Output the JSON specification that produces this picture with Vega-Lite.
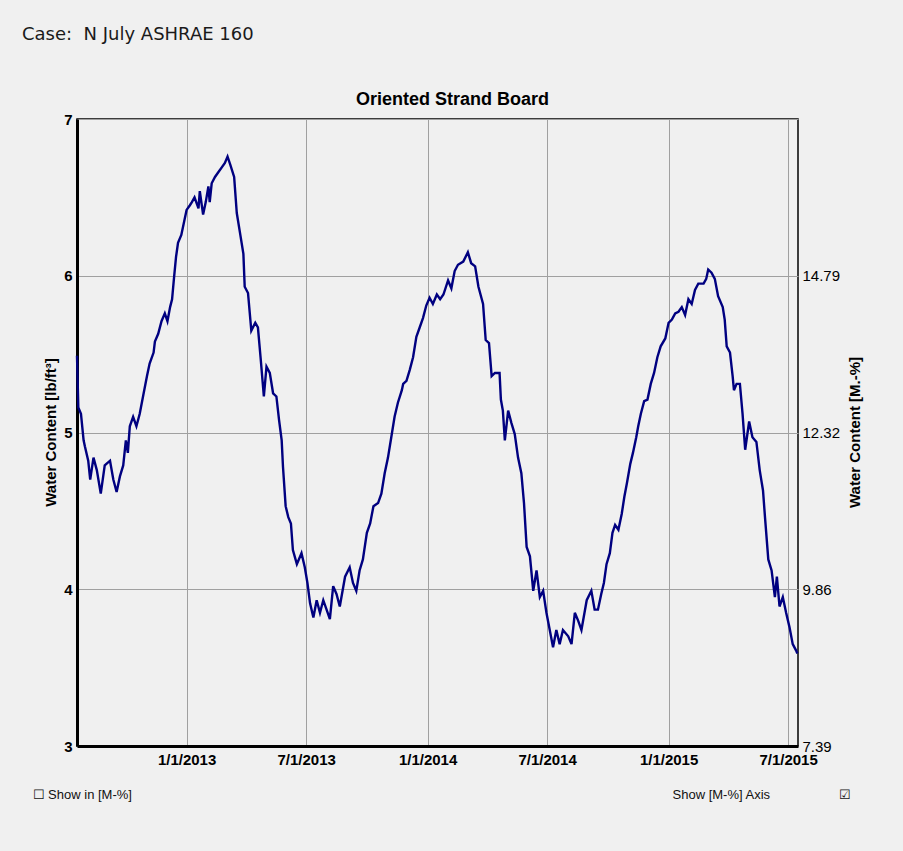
{
  "$schema": "https://vega.github.io/schema/vega-lite/v6.json",
  "width": 721,
  "height": 627,
  "autosize": {"type": "none"},
  "padding": {"left": 77, "top": 119, "right": 105, "bottom": 105},
  "background": "#f0f0f0",
  "title": {
    "text": "Case:\u00a0\u00a0N July ASHRAE 160",
    "anchor": "start",
    "frame": "group",
    "dx": -55,
    "dy": -22,
    "font": "DejaVu Sans",
    "fontSize": 18,
    "fontWeight": "normal",
    "color": "#1a1a1a",
    "baseline": "alphabetic",
    "offset": 10
  },
  "config": {
    "view": {"stroke": "#000000", "strokeWidth": 1.5, "fill": "#f0f0f0"},
    "axis": {"labelColor": "#000000", "titleColor": "#000000", "labelFont": "Liberation Sans", "titleFont": "Liberation Sans"}
  },
  "data": {
    "values": [
      {"d": "2012-07-19", "v": 5.49}, {"d": "2012-07-21", "v": 5.16}, {"d": "2012-07-25", "v": 5.12}, {"d": "2012-07-29", "v": 4.95},
      {"d": "2012-07-31", "v": 4.91}, {"d": "2012-08-05", "v": 4.82}, {"d": "2012-08-08", "v": 4.70}, {"d": "2012-08-13", "v": 4.84},
      {"d": "2012-08-18", "v": 4.76}, {"d": "2012-08-24", "v": 4.61}, {"d": "2012-08-30", "v": 4.79}, {"d": "2012-09-07", "v": 4.82},
      {"d": "2012-09-12", "v": 4.70}, {"d": "2012-09-17", "v": 4.62}, {"d": "2012-09-22", "v": 4.72}, {"d": "2012-09-27", "v": 4.79},
      {"d": "2012-10-01", "v": 4.95}, {"d": "2012-10-04", "v": 4.87}, {"d": "2012-10-07", "v": 5.04}, {"d": "2012-10-12", "v": 5.10},
      {"d": "2012-10-17", "v": 5.04}, {"d": "2012-10-22", "v": 5.12}, {"d": "2012-10-27", "v": 5.23}, {"d": "2012-11-02", "v": 5.36},
      {"d": "2012-11-06", "v": 5.44}, {"d": "2012-11-12", "v": 5.51}, {"d": "2012-11-14", "v": 5.58}, {"d": "2012-11-19", "v": 5.63},
      {"d": "2012-11-24", "v": 5.71}, {"d": "2012-11-29", "v": 5.76}, {"d": "2012-12-03", "v": 5.71}, {"d": "2012-12-07", "v": 5.80},
      {"d": "2012-12-10", "v": 5.85}, {"d": "2012-12-13", "v": 5.99}, {"d": "2012-12-16", "v": 6.12}, {"d": "2012-12-19", "v": 6.21},
      {"d": "2012-12-24", "v": 6.26}, {"d": "2012-12-29", "v": 6.36}, {"d": "2013-01-01", "v": 6.42}, {"d": "2013-01-06", "v": 6.45},
      {"d": "2013-01-09", "v": 6.47}, {"d": "2013-01-13", "v": 6.50}, {"d": "2013-01-19", "v": 6.43}, {"d": "2013-01-21", "v": 6.54},
      {"d": "2013-01-26", "v": 6.39}, {"d": "2013-01-30", "v": 6.47}, {"d": "2013-02-03", "v": 6.57}, {"d": "2013-02-05", "v": 6.47},
      {"d": "2013-02-08", "v": 6.59}, {"d": "2013-02-13", "v": 6.63}, {"d": "2013-02-18", "v": 6.66}, {"d": "2013-02-23", "v": 6.69},
      {"d": "2013-02-28", "v": 6.72}, {"d": "2013-03-04", "v": 6.76}, {"d": "2013-03-08", "v": 6.71}, {"d": "2013-03-14", "v": 6.63},
      {"d": "2013-03-18", "v": 6.40}, {"d": "2013-03-23", "v": 6.27}, {"d": "2013-03-28", "v": 6.14}, {"d": "2013-03-30", "v": 5.93},
      {"d": "2013-04-04", "v": 5.89}, {"d": "2013-04-09", "v": 5.65}, {"d": "2013-04-15", "v": 5.70}, {"d": "2013-04-19", "v": 5.67},
      {"d": "2013-04-23", "v": 5.48}, {"d": "2013-04-28", "v": 5.23}, {"d": "2013-05-02", "v": 5.42}, {"d": "2013-05-07", "v": 5.38},
      {"d": "2013-05-12", "v": 5.25}, {"d": "2013-05-17", "v": 5.23}, {"d": "2013-05-21", "v": 5.08}, {"d": "2013-05-25", "v": 4.95},
      {"d": "2013-05-27", "v": 4.78}, {"d": "2013-05-31", "v": 4.53}, {"d": "2013-06-04", "v": 4.46}, {"d": "2013-06-08", "v": 4.42},
      {"d": "2013-06-11", "v": 4.25}, {"d": "2013-06-17", "v": 4.16}, {"d": "2013-06-24", "v": 4.23}, {"d": "2013-06-29", "v": 4.14},
      {"d": "2013-07-03", "v": 4.04}, {"d": "2013-07-07", "v": 3.91}, {"d": "2013-07-12", "v": 3.82}, {"d": "2013-07-17", "v": 3.93},
      {"d": "2013-07-22", "v": 3.85}, {"d": "2013-07-27", "v": 3.93}, {"d": "2013-08-01", "v": 3.87}, {"d": "2013-08-06", "v": 3.81},
      {"d": "2013-08-11", "v": 4.02}, {"d": "2013-08-16", "v": 3.97}, {"d": "2013-08-21", "v": 3.89}, {"d": "2013-08-29", "v": 4.08},
      {"d": "2013-09-05", "v": 4.14}, {"d": "2013-09-10", "v": 4.04}, {"d": "2013-09-15", "v": 3.99}, {"d": "2013-09-20", "v": 4.12},
      {"d": "2013-09-25", "v": 4.19}, {"d": "2013-10-01", "v": 4.36}, {"d": "2013-10-06", "v": 4.42}, {"d": "2013-10-11", "v": 4.53},
      {"d": "2013-10-18", "v": 4.55}, {"d": "2013-10-23", "v": 4.61}, {"d": "2013-10-28", "v": 4.74}, {"d": "2013-11-02", "v": 4.84},
      {"d": "2013-11-07", "v": 4.97}, {"d": "2013-11-12", "v": 5.10}, {"d": "2013-11-17", "v": 5.19}, {"d": "2013-11-23", "v": 5.27},
      {"d": "2013-11-25", "v": 5.31}, {"d": "2013-11-30", "v": 5.33}, {"d": "2013-12-05", "v": 5.40}, {"d": "2013-12-10", "v": 5.48},
      {"d": "2013-12-15", "v": 5.61}, {"d": "2013-12-20", "v": 5.67}, {"d": "2013-12-25", "v": 5.73}, {"d": "2013-12-30", "v": 5.81},
      {"d": "2014-01-04", "v": 5.86}, {"d": "2014-01-09", "v": 5.82}, {"d": "2014-01-15", "v": 5.88}, {"d": "2014-01-20", "v": 5.85},
      {"d": "2014-01-25", "v": 5.88}, {"d": "2014-02-01", "v": 5.97}, {"d": "2014-02-06", "v": 5.92}, {"d": "2014-02-11", "v": 6.03},
      {"d": "2014-02-16", "v": 6.07}, {"d": "2014-02-24", "v": 6.09}, {"d": "2014-03-03", "v": 6.15}, {"d": "2014-03-08", "v": 6.08},
      {"d": "2014-03-14", "v": 6.06}, {"d": "2014-03-19", "v": 5.93}, {"d": "2014-03-26", "v": 5.82}, {"d": "2014-03-30", "v": 5.59},
      {"d": "2014-04-04", "v": 5.57}, {"d": "2014-04-08", "v": 5.36}, {"d": "2014-04-13", "v": 5.38}, {"d": "2014-04-20", "v": 5.38},
      {"d": "2014-04-22", "v": 5.21}, {"d": "2014-04-25", "v": 5.14}, {"d": "2014-04-28", "v": 4.95}, {"d": "2014-05-03", "v": 5.14},
      {"d": "2014-05-08", "v": 5.06}, {"d": "2014-05-13", "v": 4.99}, {"d": "2014-05-18", "v": 4.84}, {"d": "2014-05-23", "v": 4.74},
      {"d": "2014-05-27", "v": 4.55}, {"d": "2014-05-31", "v": 4.27}, {"d": "2014-06-05", "v": 4.21}, {"d": "2014-06-10", "v": 3.99},
      {"d": "2014-06-15", "v": 4.12}, {"d": "2014-06-20", "v": 3.95}, {"d": "2014-06-25", "v": 3.99}, {"d": "2014-06-30", "v": 3.85},
      {"d": "2014-07-05", "v": 3.74}, {"d": "2014-07-10", "v": 3.63}, {"d": "2014-07-15", "v": 3.74}, {"d": "2014-07-20", "v": 3.65},
      {"d": "2014-07-25", "v": 3.74}, {"d": "2014-08-02", "v": 3.70}, {"d": "2014-08-07", "v": 3.65}, {"d": "2014-08-12", "v": 3.85},
      {"d": "2014-08-17", "v": 3.80}, {"d": "2014-08-22", "v": 3.74}, {"d": "2014-08-30", "v": 3.93}, {"d": "2014-09-06", "v": 3.99},
      {"d": "2014-09-11", "v": 3.87}, {"d": "2014-09-16", "v": 3.87}, {"d": "2014-09-21", "v": 3.97}, {"d": "2014-09-25", "v": 4.04},
      {"d": "2014-09-29", "v": 4.16}, {"d": "2014-10-04", "v": 4.23}, {"d": "2014-10-08", "v": 4.36}, {"d": "2014-10-12", "v": 4.41},
      {"d": "2014-10-17", "v": 4.38}, {"d": "2014-10-22", "v": 4.48}, {"d": "2014-10-26", "v": 4.59}, {"d": "2014-10-30", "v": 4.68},
      {"d": "2014-11-04", "v": 4.80}, {"d": "2014-11-08", "v": 4.87}, {"d": "2014-11-13", "v": 4.97}, {"d": "2014-11-16", "v": 5.04},
      {"d": "2014-11-20", "v": 5.12}, {"d": "2014-11-25", "v": 5.20}, {"d": "2014-11-30", "v": 5.21}, {"d": "2014-12-05", "v": 5.31},
      {"d": "2014-12-10", "v": 5.38}, {"d": "2014-12-15", "v": 5.48}, {"d": "2014-12-20", "v": 5.55}, {"d": "2014-12-27", "v": 5.60},
      {"d": "2015-01-01", "v": 5.70}, {"d": "2015-01-06", "v": 5.72}, {"d": "2015-01-11", "v": 5.76}, {"d": "2015-01-16", "v": 5.77},
      {"d": "2015-01-21", "v": 5.80}, {"d": "2015-01-26", "v": 5.75}, {"d": "2015-01-31", "v": 5.85}, {"d": "2015-02-05", "v": 5.82},
      {"d": "2015-02-10", "v": 5.91}, {"d": "2015-02-15", "v": 5.95}, {"d": "2015-02-23", "v": 5.95}, {"d": "2015-02-27", "v": 5.98},
      {"d": "2015-03-02", "v": 6.04}, {"d": "2015-03-07", "v": 6.02}, {"d": "2015-03-12", "v": 5.98}, {"d": "2015-03-17", "v": 5.87},
      {"d": "2015-03-24", "v": 5.80}, {"d": "2015-03-27", "v": 5.72}, {"d": "2015-03-30", "v": 5.55}, {"d": "2015-04-04", "v": 5.51},
      {"d": "2015-04-08", "v": 5.36}, {"d": "2015-04-10", "v": 5.27}, {"d": "2015-04-14", "v": 5.31}, {"d": "2015-04-19", "v": 5.31},
      {"d": "2015-04-23", "v": 5.12}, {"d": "2015-04-27", "v": 4.89}, {"d": "2015-05-03", "v": 5.07}, {"d": "2015-05-08", "v": 4.97},
      {"d": "2015-05-14", "v": 4.94}, {"d": "2015-05-19", "v": 4.76}, {"d": "2015-05-24", "v": 4.63}, {"d": "2015-05-27", "v": 4.46},
      {"d": "2015-06-01", "v": 4.19}, {"d": "2015-06-06", "v": 4.12}, {"d": "2015-06-11", "v": 3.95}, {"d": "2015-06-14", "v": 4.08},
      {"d": "2015-06-18", "v": 3.89}, {"d": "2015-06-23", "v": 3.95}, {"d": "2015-06-28", "v": 3.85}, {"d": "2015-07-03", "v": 3.76},
      {"d": "2015-07-08", "v": 3.65}, {"d": "2015-07-13", "v": 3.61}, {"d": "2015-07-15", "v": 3.59}
    ]
  },
  "resolve": {"axis": {"x": "independent", "y": "independent"}},
  "layer": [
    {
      "mark": {"type": "line", "color": "#000080", "strokeWidth": 2.4},
      "encoding": {
        "x": {
          "field": "d",
          "type": "temporal",
          "scale": {
            "type": "utc",
            "domain": [
              {"year": 2012, "month": 7, "date": 19, "utc": true},
              {"year": 2015, "month": 7, "date": 16, "utc": true}
            ]
          },
          "axis": {
            "orient": "bottom",
            "values": [
              {"year": 2013, "month": 1, "date": 1, "utc": true},
              {"year": 2013, "month": 7, "date": 1, "utc": true},
              {"year": 2014, "month": 1, "date": 1, "utc": true},
              {"year": 2014, "month": 7, "date": 1, "utc": true},
              {"year": 2015, "month": 1, "date": 1, "utc": true},
              {"year": 2015, "month": 7, "date": 1, "utc": true}
            ],
            "labelExpr": "utcFormat(datum.value, '%-m/%-d/%Y')",
            "labelFontSize": 15,
            "labelFontWeight": "bold",
            "labelPadding": 6,
            "labelFlush": false,
            "labelOverlap": false,
            "labelBound": false,
            "ticks": false,
            "domainColor": "#000000",
            "domainWidth": 3,
            "grid": true,
            "gridColor": "#a0a0a0",
            "gridWidth": 1,
            "gridOpacity": 1,
            "title": "\u2610\u00a0Show in [M-%]",
            "titleFontSize": 13,
            "titleFontWeight": "normal",
            "titleColor": "#111111",
            "titleAlign": "left",
            "titleAnchor": "start",
            "titleBaseline": "alphabetic",
            "titleX": -45,
            "titleY": 52
          }
        },
        "y": {
          "field": "v",
          "type": "quantitative",
          "scale": {"domain": [3, 7], "nice": false, "zero": false},
          "axis": {
            "orient": "left",
            "values": [3, 4, 5, 6, 7],
            "format": "d",
            "labelFontSize": 15,
            "labelFontWeight": "bold",
            "labelPadding": 5,
            "ticks": false,
            "domainColor": "#000000",
            "domainWidth": 3,
            "grid": true,
            "gridColor": "#a0a0a0",
            "gridWidth": 1,
            "gridOpacity": 1,
            "title": "Water Content [lb/ft\u00b3]",
            "titleFontSize": 15,
            "titleFontWeight": "bold",
            "titleAngle": 270,
            "titleAlign": "center",
            "titleBaseline": "alphabetic",
            "titleX": -22,
            "titleY": 313
          }
        }
      }
    },
    {
      "mark": {"type": "line", "opacity": 0},
      "encoding": {
        "x": {
          "field": "d",
          "type": "temporal",
          "axis": {
            "orient": "top",
            "labels": false,
            "ticks": false,
            "domain": false,
            "grid": false,
            "title": "Oriented Strand Board",
            "titleFontSize": 18,
            "titleFontWeight": "bold",
            "titleAlign": "center",
            "titleBaseline": "alphabetic",
            "titleX": 375,
            "titleY": -15
          }
        },
        "y": {
          "field": "v",
          "type": "quantitative",
          "axis": {
            "orient": "right",
            "values": [3, 4, 5, 6],
            "labelExpr": "format(datum.value * 2.4643, '.2f')",
            "labelFontSize": 15,
            "labelFontWeight": "normal",
            "labelPadding": 4,
            "labelOverlap": false,
            "ticks": false,
            "domain": false,
            "grid": false,
            "title": "Water Content [M.-%]",
            "titleFontSize": 15,
            "titleFontWeight": "bold",
            "titleAngle": 270,
            "titleAlign": "center",
            "titleBaseline": "alphabetic",
            "titleX": 61,
            "titleY": 313
          }
        }
      }
    },
    {
      "mark": {"type": "line", "opacity": 0},
      "encoding": {
        "x": {
          "field": "d",
          "type": "temporal",
          "axis": {
            "orient": "bottom",
            "labels": false,
            "ticks": false,
            "domain": false,
            "grid": false,
            "title": "Show [M-%] Axis\u00a0\u00a0\u00a0\u00a0\u00a0\u00a0\u00a0\u00a0\u00a0\u00a0\u00a0\u00a0\u00a0\u00a0\u00a0\u00a0\u00a0\u00a0\u00a0\u2611",
            "titleFontSize": 13,
            "titleFontWeight": "normal",
            "titleColor": "#111111",
            "titleAlign": "left",
            "titleAnchor": "start",
            "titleBaseline": "alphabetic",
            "titleX": 595,
            "titleY": 52
          }
        },
        "y": {"field": "v", "type": "quantitative", "axis": null}
      }
    }
  ]
}
